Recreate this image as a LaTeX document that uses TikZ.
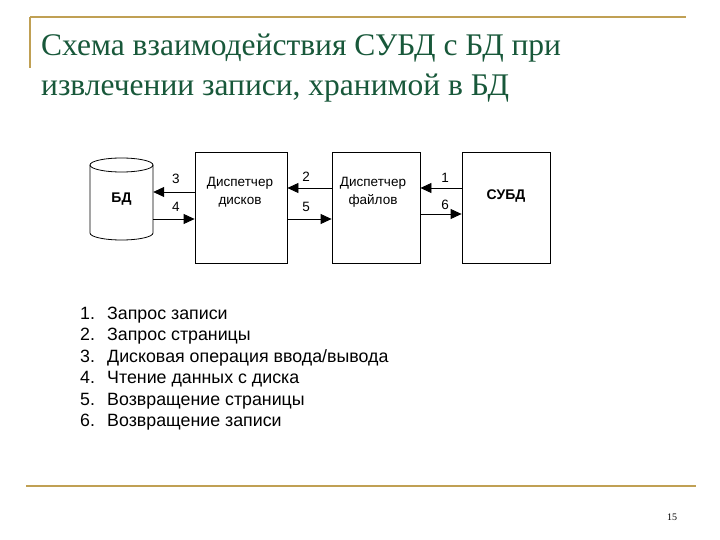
\documentclass[tikz,border=0pt]{standalone}
\usepackage{fontspec}
\setmainfont{Liberation Serif}
\newfontfamily\arialf{Liberation Sans}
\usetikzlibrary{arrows.meta}
\definecolor{gold}{RGB}{192,160,84}
\definecolor{ttl}{RGB}{24,88,58}
\tikzset{
  box/.style={draw, line width=0.8pt, minimum width=90pt, minimum height=111pt, inner sep=0pt},
  arr/.style={line width=0.8pt, -{Triangle[length=11pt,width=10pt]}},
  lab/.style={font=\arialf\fontsize{13.5}{15}\selectfont, inner sep=0pt},
  item/.style={font=\arialf\fontsize{17.8}{19}\selectfont, anchor=base west, inner sep=0pt}
}
\begin{document}
\begin{tikzpicture}[x=1pt,y=-1pt]
\useasboundingbox (0,0) rectangle (720,540);
% frame lines
\draw[gold, line width=2pt] (30,17) -- (686,17);
\draw[gold, line width=2pt] (30,17) -- (30,68);
\draw[gold, line width=2pt] (26,486) -- (696,486);
% title
\node[ttl, anchor=base west, inner sep=0pt, font=\fontsize{31.5}{36}\selectfont] (t1) at (41,56) {Схема взаимодействия СУБД с БД при};
\node[ttl, anchor=base west, inner sep=0pt, font=\fontsize{31.5}{36}\selectfont] (t2) at (41,96) {извлечении записи, хранимой в БД};
% cylinder
\node[minimum width=63pt, minimum height=82pt, inner sep=0pt, font=\arialf\bfseries\fontsize{14}{16}\selectfont] (db) at (121.5,199) {БД};
\draw[line width=0.8pt] (90,165) -- (90,233) arc[start angle=180, end angle=360, x radius=31.5pt, y radius=7pt] -- (153,165);
\draw[line width=0.8pt] (121.5,165) ellipse[x radius=31.5pt, y radius=7pt];
% boxes
\node[box, minimum width=92pt] (d1) at (241,207.5) {};
\node[box, minimum width=88pt] (d2) at (376,207.5) {};
\node[box, minimum width=88pt] (d3) at (506,207.5) {};
\node[lab, align=center] (d1t) at (240,192) {Диспетчер\\[3pt]дисков};
\node[lab, align=center] (d2t) at (373,192) {Диспетчер\\[3pt]файлов};
\node[lab, font=\arialf\bfseries\fontsize{14}{16}\selectfont] (d3t) at (506,196) {СУБД};
% arrows
\draw[arr] (d1.west |- 0,192) -- (db.east |- 0,192);
\draw[arr] (db.east |- 0,219) -- (d1.west |- 0,219);
\draw[arr] (d2.west |- 0,188) -- (d1.east |- 0,188);
\draw[arr] (d1.east |- 0,219) -- (d2.west |- 0,219);
\draw[arr] (d3.west |- 0,188) -- (d2.east |- 0,188);
\draw[arr] (d2.east |- 0,214) -- (d3.west |- 0,214);
% arrow labels
\node[lab] (l3) at (176,179) {3};
\node[lab] (l4) at (176,207) {4};
\node[lab] (l2) at (306,177) {2};
\node[lab] (l5) at (306,207) {5};
\node[lab] (l1) at (445,178) {1};
\node[lab] (l6) at (445,205) {6};
% list
\foreach \n/\t [count=\i from 0] in {1/{Запрос записи}, 2/{Запрос страницы}, 3/{Дисковая операция ввода/вывода}, 4/{Чтение данных с диска}, 5/{Возвращение страницы}, 6/{Возвращение записи}}{
  \node[item] (n\n) at (80,319+\i*21.5) {\n.};
  \node[item] (i\n) at (107,319+\i*21.5) {\t};
}
% page number
\node[font=\fontsize{10}{12}\selectfont, inner sep=0pt] (pg) at (672,517) {15};
\end{tikzpicture}
\end{document}
